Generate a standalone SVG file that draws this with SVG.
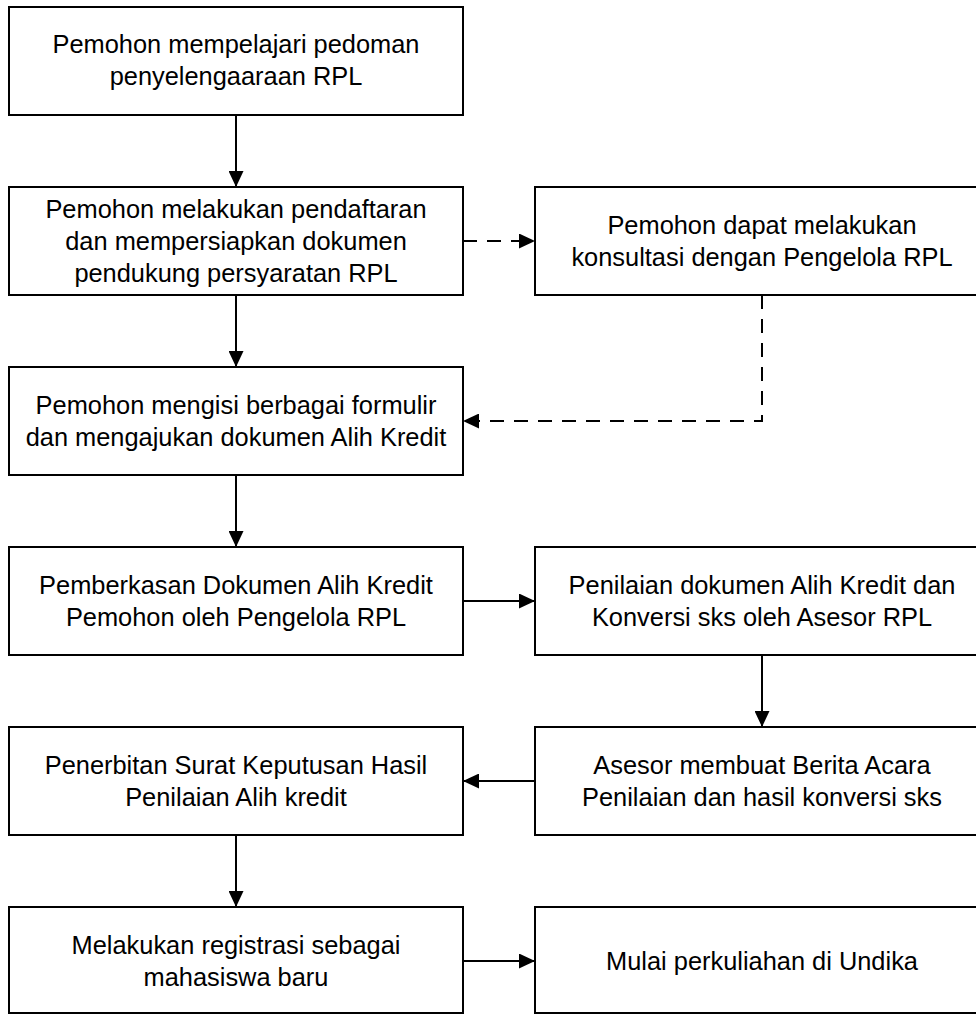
<svg xmlns="http://www.w3.org/2000/svg" width="976" height="1014" viewBox="0 0 976 1014">
<style>
.box{fill:#ffffff;stroke:#000000;stroke-width:2}
.t{font-family:"Liberation Sans",Arial,sans-serif;font-size:25.4px;fill:#000000;text-anchor:middle}
.c{fill:none;stroke:#000000;stroke-width:2}
.d{stroke-dasharray:14 10}
</style>
<defs>
<marker id="arr" markerUnits="userSpaceOnUse" markerWidth="16" markerHeight="15" refX="16" refY="7.5" orient="auto">
<path d="M0,0 L16,7.5 L0,15 Z" fill="#000000"/>
</marker>
</defs>
<rect width="976" height="1014" fill="#ffffff"/>
<g id="connectors">
<line class="c" x1="236" y1="115" x2="236" y2="187" marker-end="url(#arr)"/>
<line class="c" x1="236" y1="295" x2="236" y2="367" marker-end="url(#arr)"/>
<line class="c d" x1="463" y1="241" x2="535" y2="241" marker-end="url(#arr)"/>
<polyline class="c d" points="762,295 762,421 463,421" marker-end="url(#arr)"/>
<line class="c" x1="236" y1="475" x2="236" y2="547" marker-end="url(#arr)"/>
<line class="c" x1="463" y1="601" x2="535" y2="601" marker-end="url(#arr)"/>
<line class="c" x1="762" y1="655" x2="762" y2="727" marker-end="url(#arr)"/>
<line class="c" x1="535" y1="781" x2="463" y2="781" marker-end="url(#arr)"/>
<line class="c" x1="236" y1="835" x2="236" y2="907" marker-end="url(#arr)"/>
<line class="c" x1="463" y1="961" x2="535" y2="961" marker-end="url(#arr)"/>
</g>
<g id="n1">
<rect class="box" x="9" y="7" width="454" height="108"/>
<text class="t" x="236" y="53">Pemohon mempelajari pedoman</text>
<text class="t" x="236" y="85">penyelengaaraan RPL</text>
</g>
<g id="n2">
<rect class="box" x="9" y="187" width="454" height="108"/>
<text class="t" x="236" y="218">Pemohon melakukan pendaftaran</text>
<text class="t" x="236" y="250">dan mempersiapkan dokumen</text>
<text class="t" x="236" y="282">pendukung persyaratan RPL</text>
</g>
<g id="n2r">
<rect class="box" x="535" y="187" width="454" height="108"/>
<text class="t" x="762" y="234">Pemohon dapat melakukan</text>
<text class="t" x="762" y="266">konsultasi dengan Pengelola RPL</text>
</g>
<g id="n3">
<rect class="box" x="9" y="367" width="454" height="108"/>
<text class="t" x="236" y="414">Pemohon mengisi berbagai formulir</text>
<text class="t" x="236" y="446">dan mengajukan dokumen Alih Kredit</text>
</g>
<g id="n4">
<rect class="box" x="9" y="547" width="454" height="108"/>
<text class="t" x="236" y="594">Pemberkasan Dokumen Alih Kredit</text>
<text class="t" x="236" y="626">Pemohon oleh Pengelola RPL</text>
</g>
<g id="n4r">
<rect class="box" x="535" y="547" width="454" height="108"/>
<text class="t" x="762" y="594">Penilaian dokumen Alih Kredit dan</text>
<text class="t" x="762" y="626">Konversi sks oleh Asesor RPL</text>
</g>
<g id="n5">
<rect class="box" x="9" y="727" width="454" height="108"/>
<text class="t" x="236" y="774">Penerbitan Surat Keputusan Hasil</text>
<text class="t" x="236" y="806">Penilaian Alih kredit</text>
</g>
<g id="n5r">
<rect class="box" x="535" y="727" width="454" height="108"/>
<text class="t" x="762" y="774">Asesor membuat Berita Acara</text>
<text class="t" x="762" y="806">Penilaian dan hasil konversi sks</text>
</g>
<g id="n6">
<rect class="box" x="9" y="907" width="454" height="106"/>
<text class="t" x="236" y="954">Melakukan registrasi sebagai</text>
<text class="t" x="236" y="986">mahasiswa baru</text>
</g>
<g id="n6r">
<rect class="box" x="535" y="907" width="454" height="106"/>
<text class="t" x="762" y="970">Mulai perkuliahan di Undika</text>
</g>
</svg>
